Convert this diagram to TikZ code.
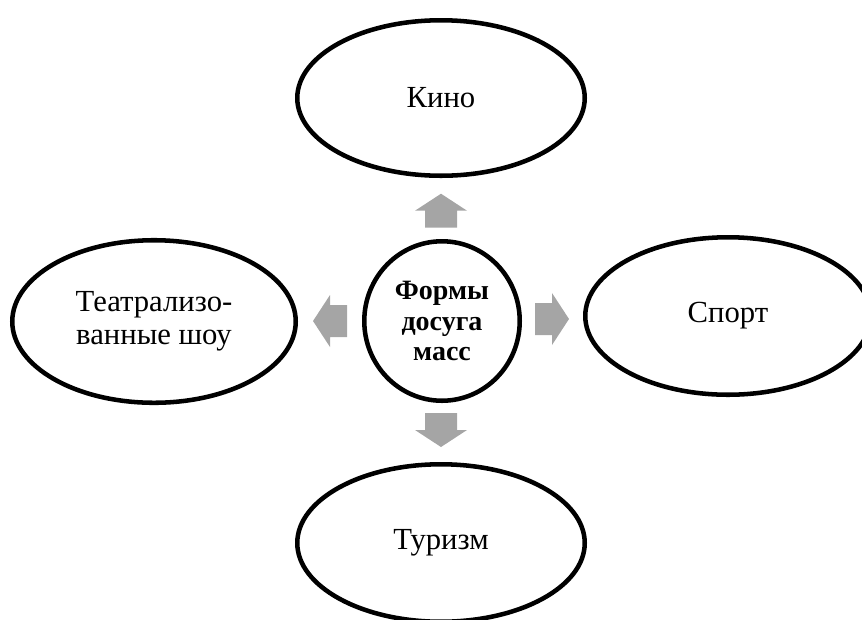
\documentclass[tikz,border=0pt]{standalone}
\usepackage{fontspec}
\setmainfont{Liberation Serif}
\usetikzlibrary{shapes.geometric}
\definecolor{arrowgray}{HTML}{A5A5A5}

\begin{document}
\begin{tikzpicture}[x=0.75pt,y=-0.75pt,
                    oval/.style={draw=black,line width=3.4pt,ellipse,inner sep=0pt,align=center,
                                 font=\fontsize{23}{25}\selectfont},
                    hub/.style={oval,font=\bfseries\fontsize{21}{23.2}\selectfont},
                    blockarrow/.style={fill=arrowgray,draw=none}]
                          \useasboundingbox (0,0) rectangle (862,619);

                          \node[hub,minimum width=116.6pt,minimum height=119.6pt] (H) at (442,321) {Формы\\досуга\\масс};
                          \node[oval,minimum width=215.6pt,minimum height=116.6pt] (K) at (441,98) {Кино};
                          \node[oval,minimum width=212.6pt,minimum height=121.9pt] (T) at (154,321.5) {Театрализо-\\ванные шоу};
                          \node[oval,minimum width=214.1pt,minimum height=118.1pt] (S) at (728,316) {Спорт};
                          \node[oval,minimum width=215.6pt,minimum height=118.1pt] (R) at (441,543) {Туризм};

                          \coordinate (UA) at (441,227.7);
                          \coordinate (DA) at (441,413);
                          \coordinate (LA) at (347,321);
                          \coordinate (RA) at (535,319);

                          \foreach \c/\a in {UA/90,DA/-90,LA/180,RA/0}
                            \fill[blockarrow,shift={(\c)},rotate=\a] (0,-16) -- (17,-16) -- (17,-26) -- (34,0) -- (17,26) -- (17,16) -- (0,16) -- cycle;
                          \end{tikzpicture}
\end{document}
